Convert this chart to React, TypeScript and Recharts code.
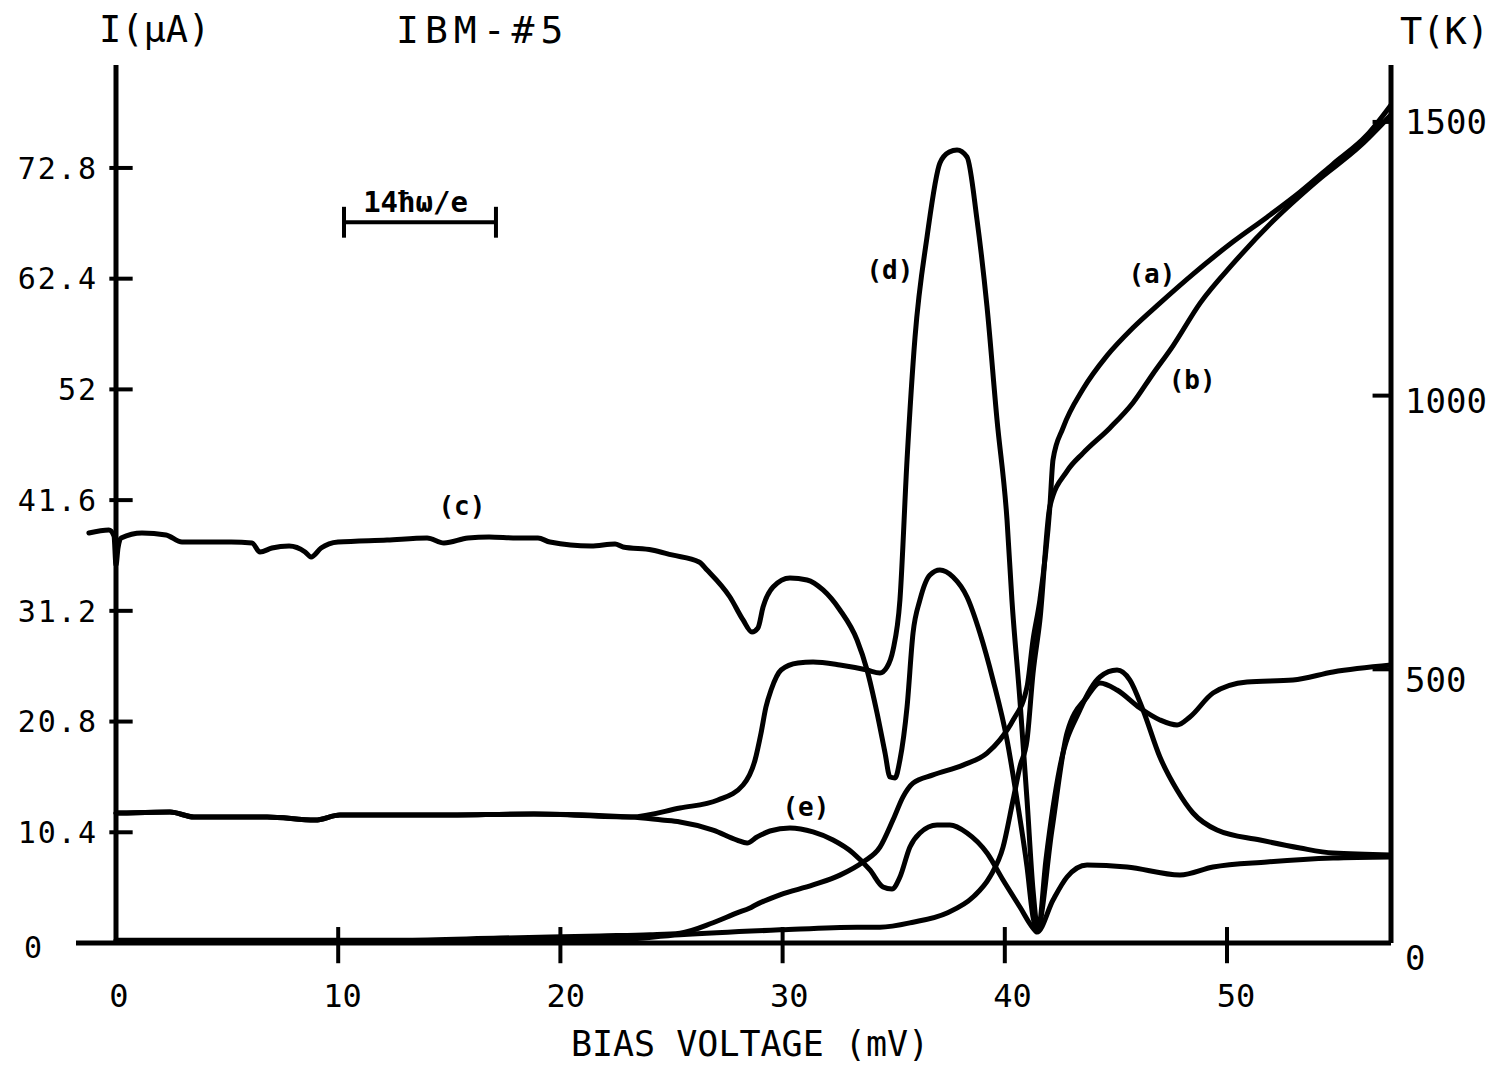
import React from "react";
import { LineChart, Line, XAxis, YAxis, ReferenceLine, ReferenceDot } from "recharts";

const MONO = '"DejaVu Sans Mono", monospace';
const INK = "#000";

// axis ranges and ticks
const BIAS_DOMAIN: [number, number] = [-1.8, 57.38];
const CURRENT_DOMAIN: [number, number] = [0, 82.47];
const TEMP_DOMAIN: [number, number] = [0, 1604];
const BIAS_TICKS = [0, 10, 20, 30, 40, 50];
const CURRENT_TICKS = [0, 10.4, 20.8, 31.2, 41.6, 52, 62.4, 72.8];
const TEMP_TICKS = [0, 500, 1000, 1500];

// (a) temperature, K
const A_BIAS = [0, 12.78, 17.28, 21.78, 24.03, 25.38, 26.87, 27.95, 28.53, 28.76, 29.88, 31.37, 32.58, 33.62, 34.38, 34.97, 35.42, 35.87, 36.77, 38.12, 39.2, 39.78, 40.37, 41.0, 41.27, 41.58, 42.03, 42.17, 42.62, 43.52, 44.6, 45.77, 46.98, 48.47, 50.27, 51.8, 53.29, 54.77, 56.3, 57.38];
const A_TEMP = [5, 5, 9, 13, 15, 18, 37, 55, 64, 69, 88, 106, 124, 148, 175, 225, 267, 292, 307, 325, 347, 371, 407, 468, 554, 627, 798, 883, 941, 1012, 1073, 1124, 1169, 1222, 1281, 1326, 1372, 1423, 1476, 1531];

// (b) temperature, K
const B_BIAS = [0, 22.0, 25.38, 29.88, 33.35, 34.38, 35.87, 37.4, 38.57, 39.33, 39.92, 40.37, 40.68, 41.0, 41.27, 41.58, 42.03, 42.8, 43.52, 44.73, 45.77, 46.67, 47.57, 48.79, 50.27, 52.07, 54.05, 55.99, 57.38];
const B_TEMP = [2, 5, 15, 24, 29, 29, 38, 55, 84, 121, 175, 261, 322, 371, 493, 590, 798, 862, 895, 941, 987, 1040, 1091, 1169, 1241, 1319, 1392, 1456, 1513];

// (c) current, uA
const C_BIAS = [-1.22, -0.32, -0.09, 0, 0.09, 0.23, 1.17, 2.25, 2.97, 5.18, 6.12, 6.48, 7.02, 7.79, 8.51, 8.78, 9.23, 9.99, 12.2, 14.0, 14.76, 15.84, 16.79, 18.05, 18.99, 19.53, 21.38, 22.46, 22.82, 24.12, 25.02, 26.24, 26.6, 27.63, 28.22, 28.62, 28.89, 29.12, 29.57, 30.33, 31.1, 31.82, 32.58, 33.35, 33.8, 34.25, 34.61, 34.83, 35.06, 35.28, 35.6, 35.87, 36.18, 36.63, 37.08, 37.67, 38.3, 38.88, 39.47, 40.1, 40.55, 41.0, 41.27, 41.45, 42.12, 42.8, 43.7, 44.28, 45.05, 46.08, 46.98, 47.75, 48.33, 49.37, 50.9, 52.97, 54.77, 57.38];
const C_CURRENT = [38.51, 38.79, 38.23, 35.51, 37.1, 38.04, 38.51, 38.32, 37.66, 37.66, 37.57, 36.73, 37.1, 37.29, 36.73, 36.26, 37.1, 37.66, 37.85, 38.04, 37.57, 38.04, 38.14, 38.04, 38.04, 37.66, 37.29, 37.48, 37.2, 36.92, 36.45, 35.79, 35.04, 32.5, 30.34, 29.21, 29.59, 31.56, 33.44, 34.29, 34.1, 33.16, 31.28, 28.46, 25.64, 21.6, 17.85, 15.59, 15.5, 17.19, 22.17, 29.12, 32.22, 34.57, 35.04, 34.38, 32.5, 29.12, 24.7, 19.07, 13.43, 7.14, 2.44, 1.22, 10.6, 19.73, 23.11, 24.42, 23.76, 22.07, 20.95, 20.48, 21.23, 23.48, 24.52, 24.7, 25.46, 26.11];

// (d) current, uA
const D_BIAS = [0, 0.22, 2.43, 3.51, 6.8, 8.96, 10.08, 14.45, 18.81, 23.18, 25.38, 27.09, 28.22, 28.76, 29.03, 29.25, 29.48, 29.93, 30.69, 31.37, 32.58, 33.8, 34.38, 34.7, 34.97, 35.28, 35.6, 35.96, 36.5, 37.08, 37.5, 37.85, 38.3, 38.75, 39.2, 39.65, 40.1, 40.32, 40.68, 41.0, 41.27, 41.5, 41.85, 42.48, 43.38, 44.28, 45.05, 45.63, 46.22, 46.98, 47.75, 48.47, 49.55, 51.49, 53.29, 54.77, 57.38];
const D_CURRENT = [12.2, 12.21, 12.3, 11.84, 11.84, 11.55, 12.02, 12.02, 12.12, 11.84, 12.68, 13.43, 14.84, 17.19, 19.73, 22.17, 23.76, 25.64, 26.3, 26.39, 26.11, 25.64, 25.36, 25.92, 27.52, 32.22, 45.37, 56.92, 66.32, 73.27, 74.3, 74.49, 73.83, 67.91, 59.74, 49.12, 39.73, 32.22, 22.83, 13.43, 4.98, 1.22, 7.8, 16.53, 21.89, 24.99, 25.64, 24.7, 21.89, 17.47, 14.37, 12.21, 10.61, 9.67, 8.92, 8.45, 8.27];

// (e) current, uA
const E_BIAS = [0, 0.22, 2.43, 3.51, 6.8, 8.96, 10.08, 14.45, 18.81, 23.18, 24.57, 25.38, 26.87, 27.95, 28.4, 28.85, 29.43, 30.33, 31.37, 32.27, 33.17, 33.93, 34.52, 34.92, 35.28, 35.73, 36.18, 36.95, 37.53, 38.3, 39.2, 39.92, 40.68, 41.27, 41.45, 42.17, 42.8, 43.7, 45.5, 47.88, 49.37, 51.8, 54.77, 57.38];
const E_CURRENT = [12.2, 12.21, 12.3, 11.84, 11.84, 11.55, 12.02, 12.02, 12.12, 11.84, 11.55, 11.37, 10.61, 9.67, 9.39, 9.96, 10.52, 10.8, 10.43, 9.67, 8.45, 6.86, 5.26, 5.07, 6.2, 9.02, 10.33, 11.08, 11.08, 10.33, 8.45, 5.92, 3.38, 1.41, 1.03, 4.04, 6.2, 7.33, 7.14, 6.39, 7.14, 7.61, 7.98, 8.08];

// curve tags, placed in (bias, current) units
const TAG_TEXT = ["(a)", "(b)", "(c)", "(d)", "(e)"];
const TAG_BIAS = [46.62, 48.43, 15.57, 34.83, 31.05];
const TAG_CURRENT = [62.84, 52.88, 41.1, 63.22, 12.77];

// 14ħω/e scale bar
const BAR_BIAS = [10.26, 17.1];
const BAR_CURRENT = 67.7;

type Pt = { v: number; y: number };
const zip = (xs: number[], ys: number[]): Pt[] => xs.map((v, i) => ({ v, y: ys[i] }));

const SERIES = [
  { id: "a", axis: "T", data: zip(A_BIAS, A_TEMP) },
  { id: "b", axis: "T", data: zip(B_BIAS, B_TEMP) },
  { id: "c", axis: "I", data: zip(C_BIAS, C_CURRENT) },
  { id: "d", axis: "I", data: zip(D_BIAS, D_CURRENT) },
  { id: "e", axis: "I", data: zip(E_BIAS, E_CURRENT) },
];

const CurrentTick = ({ x, y, payload }: any) => {
  const zero = payload.value === 0;
  return (
    <text
      x={zero ? x - 42 : x + 22}
      y={y + (zero ? 4 : 0)}
      dy="0.36em"
      textAnchor={zero ? "middle" : "end"}
      fontFamily={MONO}
      fontSize={30}
      letterSpacing={2}
      fill={INK}
    >
      {String(payload.value)}
    </text>
  );
};

const BiasTick = ({ x, y, payload }: any) => (
  <text x={x + 3 + payload.value * 0.12} y={y + 64} textAnchor="middle" fontFamily={MONO} fontSize={32} fill={INK}>
    {payload.value}
  </text>
);

const TempTick = ({ x, y, payload }: any) => (
  <text x={x + 14} y={y + (1500 - payload.value) * 0.01} dy="0.36em" textAnchor="start" fontFamily={MONO} fontSize={34} fill={INK}>
    {payload.value}
  </text>
);

export default function App() {
  return (
    <div style={{ position: "absolute", left: 0, top: 0, width: 1499, height: 1067, background: "#fff" }}>
      <LineChart width={1499} height={1067} margin={{ top: 65, right: 0, bottom: 0, left: 0 }}>
        <XAxis
          type="number"
          dataKey="v"
          domain={BIAS_DOMAIN}
          ticks={BIAS_TICKS}
          interval={0}
          allowDataOverflow
          height={124}
          tickSize={0}
          tickMargin={0}
          tickLine={false}
          axisLine={{ stroke: INK, strokeWidth: 5 }}
          tick={BiasTick}
        />
        <YAxis
          yAxisId="I"
          domain={CURRENT_DOMAIN}
          ticks={CURRENT_TICKS}
          interval={0}
          allowDataOverflow
          width={76}
          tickSize={0}
          tickMargin={0}
          tickLine={false}
          axisLine={false}
          tick={CurrentTick}
        />
        <YAxis
          yAxisId="T"
          orientation="right"
          domain={TEMP_DOMAIN}
          ticks={TEMP_TICKS}
          interval={0}
          allowDataOverflow
          width={108}
          tickSize={0}
          tickMargin={0}
          tickLine={false}
          axisLine={{ stroke: INK, strokeWidth: 5 }}
          tick={TempTick}
        />

        {/* left axis sits at zero bias */}
        <ReferenceLine yAxisId="I" x={0} stroke={INK} strokeWidth={5} />
        {CURRENT_TICKS.filter((t) => t > 0).map((t) => (
          <ReferenceLine key={`it${t}`} yAxisId="I" segment={[{ x: -0.3, y: t }, { x: 0.75, y: t }]} stroke={INK} strokeWidth={4} ifOverflow="visible" />
        ))}
        {BIAS_TICKS.filter((t) => t > 0).map((t) => (
          <ReferenceLine key={`bt${t}`} yAxisId="I" segment={[{ x: t, y: -1.9 }, { x: t, y: 1.5 }]} stroke={INK} strokeWidth={4} ifOverflow="visible" />
        ))}
        {TEMP_TICKS.filter((t) => t > 0).map((t) => (
          <ReferenceLine key={`tt${t}`} yAxisId="T" segment={[{ x: 56.55, y: t }, { x: 57.38, y: t }]} stroke={INK} strokeWidth={4} ifOverflow="visible" />
        ))}

        {/* scale bar */}
        <ReferenceLine yAxisId="I" segment={[{ x: BAR_BIAS[0], y: BAR_CURRENT }, { x: BAR_BIAS[1], y: BAR_CURRENT }]} stroke={INK} strokeWidth={4} />
        {BAR_BIAS.map((b) => (
          <ReferenceLine key={`cap${b}`} yAxisId="I" segment={[{ x: b, y: BAR_CURRENT - 1.45 }, { x: b, y: BAR_CURRENT + 1.45 }]} stroke={INK} strokeWidth={4} />
        ))}
        <ReferenceDot
          yAxisId="I"
          x={(BAR_BIAS[0] + BAR_BIAS[1]) / 2 - 0.2}
          y={BAR_CURRENT + 1.9}
          r={0}
          fill="none"
          stroke="none"
          label={{ value: "14ħω/e", position: "center", fontFamily: MONO, fontSize: 29, fontWeight: 700, fill: INK }}
        />

        {SERIES.map((s) => (
          <Line
            key={s.id}
            data={s.data}
            dataKey="y"
            yAxisId={s.axis}
            type="monotone"
            dot={false}
            activeDot={false}
            stroke={INK}
            strokeWidth={5}
            strokeLinejoin="round"
            strokeLinecap="round"
            isAnimationActive={false}
          />
        ))}

        {TAG_TEXT.map((t, i) => (
          <ReferenceDot
            key={t}
            yAxisId="I"
            x={TAG_BIAS[i]}
            y={TAG_CURRENT[i]}
            r={0}
            fill="none"
            stroke="none"
            label={{ value: t, position: "center", fontFamily: MONO, fontSize: 26, fontWeight: 700, fill: INK }}
          />
        ))}
      </LineChart>

      <svg width={1499} height={1067} style={{ position: "absolute", left: 0, top: 0, pointerEvents: "none" }}>
        <g fontFamily={MONO} fill={INK}>
          <text x={99} y={42} fontSize={37}>I(μA)</text>
          <text x={396} y={43} fontSize={38} letterSpacing={6}>IBM-#5</text>
          <text x={1400} y={44} fontSize={37}>T(K)</text>
          <text x={750} y={1056} fontSize={35} textAnchor="middle">BIAS VOLTAGE (mV)</text>
        </g>
      </svg>
    </div>
  );
}
